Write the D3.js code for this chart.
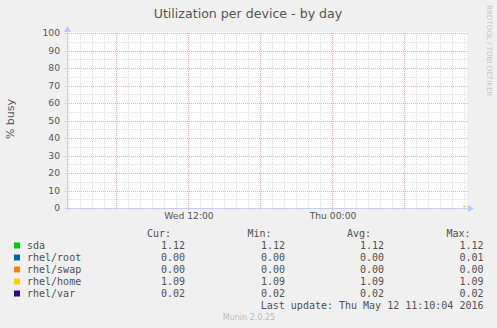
<!DOCTYPE html>
<html>
<head>
<meta charset="utf-8">
<script src="https://cdn.jsdelivr.net/npm/d3@7"></script>
<style>
  body { margin: 0; background: #f0f0f0; }
  text { font-family: "DejaVu Sans", sans-serif; fill: #555; }
  .mono { font-family: "DejaVu Sans Mono", monospace; font-size: 10px; fill: #505050; }
</style>
</head>
<body>
<svg id="chart" width="497" height="328"></svg>
<script>
// data
const seriesNames = ["sda", "rhel/root", "rhel/swap", "rhel/home", "rhel/var"];
const seriesColors = ["#00cc00", "#0066b3", "#ff8000", "#ffcc00", "#330099"];
const sampleTimes = ["2016-05-12 10:55", "2016-05-12 11:00", "2016-05-12 11:05", "2016-05-12 11:10"];
const sdaValues = [1.12, 1.12, 1.12, 1.12];
const rootValues = [0.00, 0.01, 0.00, 0.00];
const swapValues = [0.00, 0.00, 0.00, 0.00];
const homeValues = [1.09, 1.09, 1.09, 1.09];
const varValues = [0.02, 0.02, 0.02, 0.02];
const curValues = ["1.12", "0.00", "0.00", "1.09", "0.02"];
const minValues = ["1.12", "0.00", "0.00", "1.09", "0.02"];
const avgValues = ["1.12", "0.00", "0.00", "1.09", "0.02"];
const maxValues = ["1.12", "0.01", "0.00", "1.09", "0.02"];
const yTicks = [0, 10, 20, 30, 40, 50, 60, 70, 80, 90, 100];
const timeStart = "2016-05-11 01:55", timeEnd = "2016-05-12 11:15";

const svg = d3.select("#chart");
const parse = d3.timeParse("%Y-%m-%d %H:%M");
const pLeft = 67, pRight = 467, pTop = 33, pBottom = 208;
const px = v => Math.round(v) + 0.5;

svg.append("rect").attr("width", 497).attr("height", 328).attr("fill", "#f0f0f0");

const x = d3.scaleTime().domain([parse(timeStart), parse(timeEnd)]).range([pLeft, pRight]);
const y = d3.scaleLinear().domain([0, 100]).range([pBottom, pTop]);

// canvas
svg.append("rect")
    .attr("x", pLeft).attr("y", pTop - 1)
    .attr("width", pRight - pLeft).attr("height", pBottom - pTop + 1)
    .attr("fill", "#fff");

const grid = svg.append("g").attr("shape-rendering", "crispEdges").attr("stroke-dasharray", "1,1");

// minor grid
const hours = x.ticks(d3.timeHour.every(1));
grid.selectAll(".vmin").data(hours.filter(d => d.getHours() % 6 !== 0)).enter().append("line")
    .attr("x1", d => px(x(d))).attr("x2", d => px(x(d)))
    .attr("y1", pTop).attr("y2", pBottom + 2)
    .attr("stroke", "#dedede");
const fives = d3.range(5, 100, 10);
grid.selectAll(".hmin").data(fives).enter().append("line")
    .attr("x1", pLeft - 2).attr("x2", pRight + 2)
    .attr("y1", d => px(y(d))).attr("y2", d => px(y(d)))
    .attr("stroke", "#dedede");

// major grid
grid.selectAll(".vmaj").data(hours.filter(d => d.getHours() % 6 === 0)).enter().append("line")
    .attr("x1", d => px(x(d))).attr("x2", d => px(x(d)))
    .attr("y1", pTop).attr("y2", pBottom + 3)
    .attr("stroke", "#f0a8a8");
grid.selectAll(".hmaj").data(yTicks.slice(1)).enter().append("line")
    .attr("x1", pLeft - 2).attr("x2", pRight + 2)
    .attr("y1", d => px(y(d))).attr("y2", d => px(y(d)))
    .attr("stroke", "#f0a8a8");

// y labels
svg.selectAll(".ylab").data(yTicks).enter().append("text")
    .attr("x", 60).attr("y", d => y(d) + 3.4)
    .attr("text-anchor", "end")
    .style("font-size", "9.2px")
    .text(d => d);

// x labels
const fmt = d3.timeFormat("%a %H:%M");
svg.selectAll(".xlab").data(hours.filter(d => d.getHours() % 12 === 0)).enter().append("text")
    .attr("x", d => x(d) + 1).attr("y", 219)
    .attr("text-anchor", "middle")
    .style("font-size", "9.2px")
    .text(d => fmt(d));

// series
const allValues = [sdaValues, rootValues, swapValues, homeValues, varValues];
const line = d3.line().curve(d3.curveStepBefore)
    .x(d => x(d.t)).y(d => px(y(d.v)));
allValues.forEach((vals, i) => {
    const pts = sampleTimes.map((t, j) => ({ t: parse(t), v: vals[j] }));
    svg.append("path")
        .datum(pts)
        .attr("d", line)
        .attr("fill", "none")
        .attr("stroke", seriesColors[i])
        .attr("stroke-width", 1)
        .attr("shape-rendering", "crispEdges");
});

// axes
const axisColor = "#c8ccf4";
svg.append("line").attr("x1", pLeft - 2).attr("x2", pRight + 3)
    .attr("y1", px(pBottom)).attr("y2", px(pBottom))
    .attr("stroke", axisColor).attr("shape-rendering", "crispEdges");
svg.append("line").attr("x1", px(pLeft)).attr("x2", px(pLeft))
    .attr("y1", pBottom + 2).attr("y2", pTop - 4)
    .attr("stroke", axisColor).attr("shape-rendering", "crispEdges");
svg.append("path")
    .attr("d", `M${pRight + 7},${px(pBottom)} L${pRight + 1},${px(pBottom) - 3.5} L${pRight + 1},${px(pBottom) + 3.5}Z`)
    .attr("fill", "#bcc6ff");
svg.append("path")
    .attr("d", `M${px(pLeft)},${pTop - 7} L${px(pLeft) - 3.5},${pTop - 1} L${px(pLeft) + 3.5},${pTop - 1}Z`)
    .attr("fill", "#bcc6ff");

// title
svg.append("text")
    .attr("x", 248).attr("y", 18)
    .attr("text-anchor", "middle")
    .style("font-size", "12.6px")
    .text("Utilization per device - by day");

// vertical label
svg.append("text")
    .attr("transform", "translate(14,119) rotate(-90)")
    .attr("text-anchor", "middle")
    .style("font-size", "11px")
    .text("% busy");

// watermark
svg.append("text")
    .attr("transform", "translate(487,5) rotate(90)")
    .attr("text-anchor", "start")
    .style("font-size", "7.1px")
    .style("fill", "#c4c4c4")
    .text("RRDTOOL / TOBI OETIKER");

// legend
const headers = [["Cur:", 171], ["Min:", 271.5], ["Avg:", 371], ["Max:", 470.5]];
svg.selectAll(".hdr").data(headers).enter().append("text")
    .attr("class", "mono")
    .attr("x", d => d[1]).attr("y", 237)
    .attr("text-anchor", "end")
    .text(d => d[0]);

const rows = svg.selectAll(".row").data(seriesNames).enter().append("g")
    .attr("transform", (d, i) => `translate(0,${249 + i * 12})`);
rows.append("rect")
    .attr("x", 14).attr("y", -6.5).attr("width", 6).attr("height", 6)
    .attr("fill", (d, i) => seriesColors[i]);
rows.append("text").attr("class", "mono").attr("x", 27).text(d => d);
const cols = [[curValues, 185], [minValues, 285], [avgValues, 384], [maxValues, 483.5]];
cols.forEach(([vals, cx]) => {
    rows.append("text").attr("class", "mono")
        .attr("x", cx).attr("text-anchor", "end")
        .text((d, i) => vals[i]);
});

svg.append("text").attr("class", "mono")
    .attr("x", 483.5).attr("y", 308.5)
    .attr("text-anchor", "end")
    .text("Last update: Thu May 12 11:10:04 2016");

svg.append("text")
    .attr("x", 249).attr("y", 320)
    .attr("text-anchor", "middle")
    .style("font-size", "8px")
    .style("fill", "#bbb")
    .text("Munin 2.0.25");
</script>
</body>
</html>
